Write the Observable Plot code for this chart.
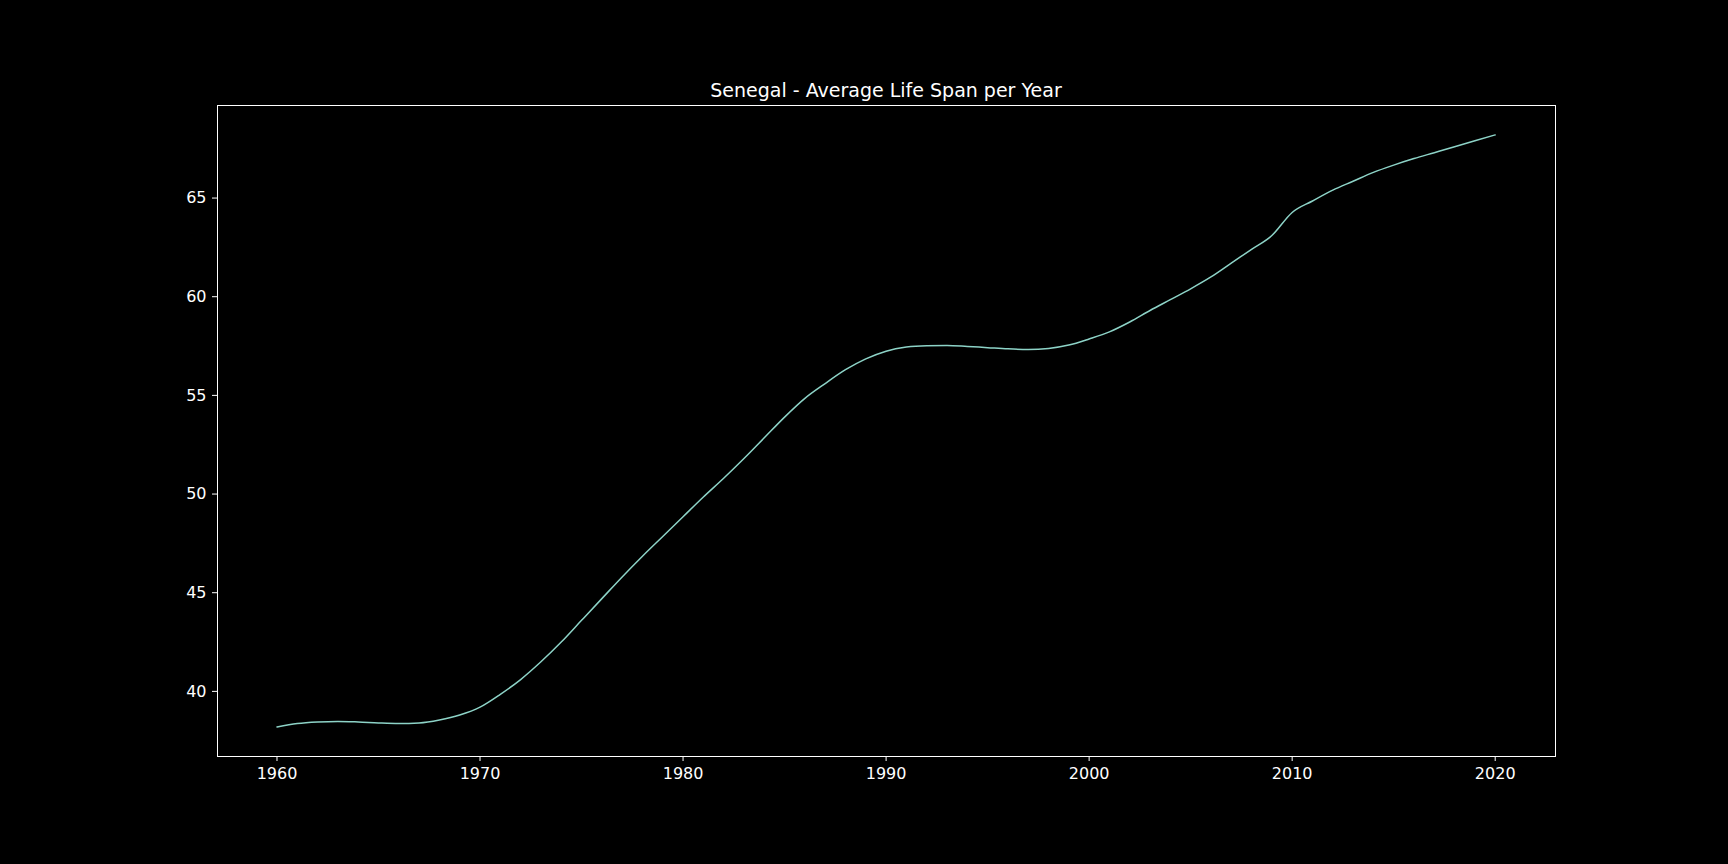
<!DOCTYPE html>
<html><head><meta charset="utf-8">
<script src="https://cdn.jsdelivr.net/npm/d3@7"></script>
<script src="https://cdn.jsdelivr.net/npm/@observablehq/plot@0.6"></script>
<style>
body{margin:0;background:#000;width:1728px;height:864px;overflow:hidden;position:relative;font-family:"DejaVu Sans",sans-serif}
#title{position:absolute;top:79px;left:217px;width:1338px;text-align:center;color:#fff;font-size:19px;z-index:2}
#chart{position:absolute;top:0;left:0;z-index:1}
</style></head><body>
<div id="title">Senegal - Average Life Span per Year</div>
<div id="chart"></div>
<script>
const years = d3.range(1960, 2021);
const lifeSpan = [
38.2,38.37,38.45,38.48,38.45,38.4,38.37,38.4,38.55,38.8,
39.2,39.85,40.6,41.5,42.5,43.6,44.7,45.8,46.85,47.85,
48.85,49.85,50.8,51.8,52.85,53.9,54.85,55.6,56.3,56.85,
57.24,57.45,57.52,57.53,57.48,57.42,57.36,57.33,57.38,57.55,
57.86,58.22,58.72,59.3,59.85,60.4,61.0,61.7,62.4,63.1,
64.27,64.85,65.4,65.85,66.3,66.67,67.0,67.3,67.6,67.9,68.2];
const data = years.map((y,i)=>({year:y, value:lifeSpan[i]}));
const xTicks = [1960,1970,1980,1990,2000,2010,2020];
const yTicks = [40,45,50,55,60,65];
const chart = Plot.plot({
  width:1728, height:864,
  marginLeft:217, marginRight:173, marginTop:105, marginBottom:108,
  style:{background:"#000", color:"#fff", fontFamily:"DejaVu Sans, sans-serif", fontSize:"16px"},
  x:{domain:[1957.07,2022.97], ticks:xTicks, tickFormat:d=>String(d), label:null, tickSize:5, tickPadding:6},
  y:{domain:[36.7,69.69], ticks:yTicks, label:null, tickSize:5, tickPadding:6},
  marks:[
    Plot.frame({stroke:"#fff", strokeWidth:1}),
    Plot.line(data,{x:"year", y:"value", stroke:"#8dd3c7", strokeWidth:1.5, curve:"monotone-x"})
  ]
});
document.getElementById("chart").appendChild(chart);
</script>
</body></html>
